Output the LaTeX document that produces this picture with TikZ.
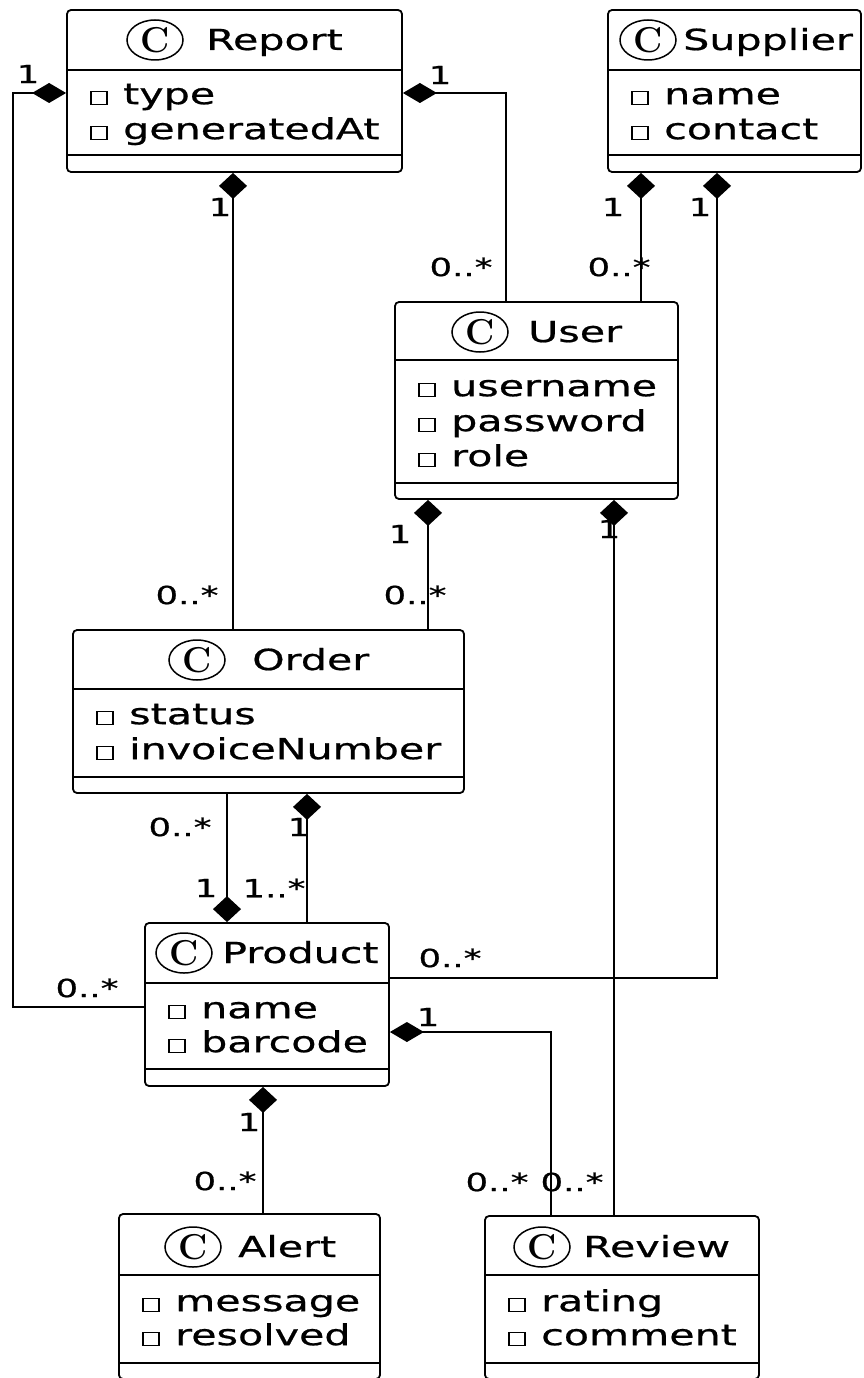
\documentclass[tikz,border=0pt]{standalone}
\usepackage{fontspec}
\usetikzlibrary{arrows.meta,shapes.geometric}
\newfontfamily\umlf{DejaVu Sans}[FakeStretch=1.42,FakeBold=0.7]
\tikzset{
 conn/.style={line width=1.8pt},
 classbox/.style={draw, line width=1.8pt, rounded corners=4pt, inner sep=0pt, fill=white},
 ctitle/.style={font=\umlf\fontsize{29}{31}\selectfont, inner sep=0pt, anchor=base west},
 attrtxt/.style={font=\umlf\fontsize{29}{31}\selectfont, inner sep=0pt, anchor=mid west},
 sq/.style={draw, line width=1.5pt, minimum width=16pt, minimum height=13pt, inner sep=0pt},
 mult/.style={font=\umlf\fontsize{25}{27}\selectfont, inner sep=0pt},
 cmark/.style={draw, ellipse, line width=1.5pt, minimum width=56pt, minimum height=40pt, inner sep=0pt, font=\fontsize{36}{36}\selectfont\bfseries},
 comph/.style={conn, {Diamond[length=34pt,width=20pt]}-},
 compv/.style={conn, {Diamond[length=26pt,width=28pt]}-},
}
\newcommand\umlclass[7]{%
 \node[classbox, minimum width={#4-#2}, minimum height={#5-#3}] (#1) at ({(#2+#4)/2},{(#3+#5)/2}) {};
 \draw[conn] (#1.west |- 0,#6) -- (#1.east |- 0,#6);
 \draw[conn] (#1.west |- 0,#7) -- (#1.east |- 0,#7);
}
\newcommand\umltitle[5]{%
 \node[cmark] (#1-c) at (#2,{#4-10}) {C};
 \node[ctitle] (#1-t) at (#3,#4) {#5};
}
\newcommand\umlattr[4]{%
 \node[sq] (#1-s) at ({#2+32},{#3+2}) {};
 \node[attrtxt] (#1) at ({#2+56},{#3+6}) {#4};
}
\begin{document}
\begin{tikzpicture}[x=1pt,y=-1pt]
\useasboundingbox (0,0) rectangle (863,1378);
\coordinate (cL) at (13,93);
% classes
\umlclass{rep}{67}{10}{402}{172}{70}{155}
\umltitle{rep}{155}{206}{50}{Report}
\umlattr{rep-a1}{67}{96}{type}
\umlattr{rep-a2}{67}{131}{generatedAt}

\umlclass{sup}{608}{10}{861}{172}{70}{155}
\umltitle{sup}{648}{683}{50}{Supplier}
\umlattr{sup-a1}{608}{96}{name}
\umlattr{sup-a2}{608}{131}{contact}

\umlclass{usr}{395}{302}{678}{499}{360}{483}
\umltitle{usr}{480}{528}{342}{User}
\umlattr{usr-a1}{395}{388}{username}
\umlattr{usr-a2}{395}{423}{password}
\umlattr{usr-a3}{395}{458}{role}

\umlclass{ord}{73}{630}{464}{793}{689}{777}
\umltitle{ord}{197}{252}{670}{Order}
\umlattr{ord-a1}{73}{716}{status}
\umlattr{ord-a2}{73}{751}{invoiceNumber}

\umlclass{prd}{145}{923}{389}{1086}{983}{1069}
\umltitle{prd}{184}{222}{963}{Product}
\umlattr{prd-a1}{145}{1010}{name}
\umlattr{prd-a2}{145}{1044}{barcode}

\umlclass{alr}{119}{1214}{380}{1379}{1275}{1363}
\umltitle{alr}{193}{238}{1257}{Alert}
\umlattr{alr-a1}{119}{1303}{message}
\umlattr{alr-a2}{119}{1337}{resolved}

\umlclass{rev}{485}{1216}{759}{1379}{1275}{1363}
\umltitle{rev}{542}{583}{1257}{Review}
\umlattr{rev-a1}{485}{1303}{rating}
\umlattr{rev-a2}{485}{1337}{comment}

% connectors
\draw[comph] (rep.east |- 0,93) -| (usr.north -| 506,0);
\draw[compv] (rep.south -| 233,0) -- (ord.north -| 233,0);
\draw[comph] (rep.west |- 0,93) -- (cL) |- (prd.west |- 0,1007);
\draw[compv] (sup.south -| 641,0) -- (usr.north -| 641,0);
\draw[compv] (sup.south -| 717,0) |- (prd.east |- 0,978);
\draw[compv] (usr.south -| 428,0) -- (ord.north -| 428,0);
\draw[compv] (usr.south -| 614,0) -- (rev.north -| 614,0);
\draw[compv] (prd.north -| 227,0) -- (ord.south -| 227,0);
\draw[compv] (ord.south -| 307,0) -- (prd.north -| 307,0);
\draw[comph] (prd.east |- 0,1032) -| (rev.north -| 551,0);
\draw[compv] (prd.south -| 263,0) -- (alr.north -| 263,0);

% multiplicities
\node[mult] (m1) at (28,74) {1};
\node[mult] (m2) at (87,988) {0..*};
\node[mult] (m3) at (440,75) {1};
\node[mult] (m4) at (461,267) {0..*};
\node[mult] (m5) at (220,207) {1};
\node[mult] (m6) at (187,595) {0..*};
\node[mult] (m7) at (613,207) {1};
\node[mult] (m8) at (619,267) {0..*};
\node[mult] (m9) at (700,207) {1};
\node[mult] (m10) at (450,958) {0..*};
\node[mult] (m11) at (400,534) {1};
\node[mult] (m12) at (415,595) {0..*};
\node[mult] (m13) at (609,529) {1};
\node[mult] (m14) at (572,1182) {0..*};
\node[mult] (m15) at (180,827) {0..*};
\node[mult] (m16) at (206,888) {1};
\node[mult] (m17) at (299,827) {1};
\node[mult] (m18) at (274,888) {1..*};
\node[mult] (m19) at (428,1017) {1};
\node[mult] (m20) at (497,1182) {0..*};
\node[mult] (m21) at (249,1122) {1};
\node[mult] (m22) at (225,1181) {0..*};
\end{tikzpicture}
\end{document}
